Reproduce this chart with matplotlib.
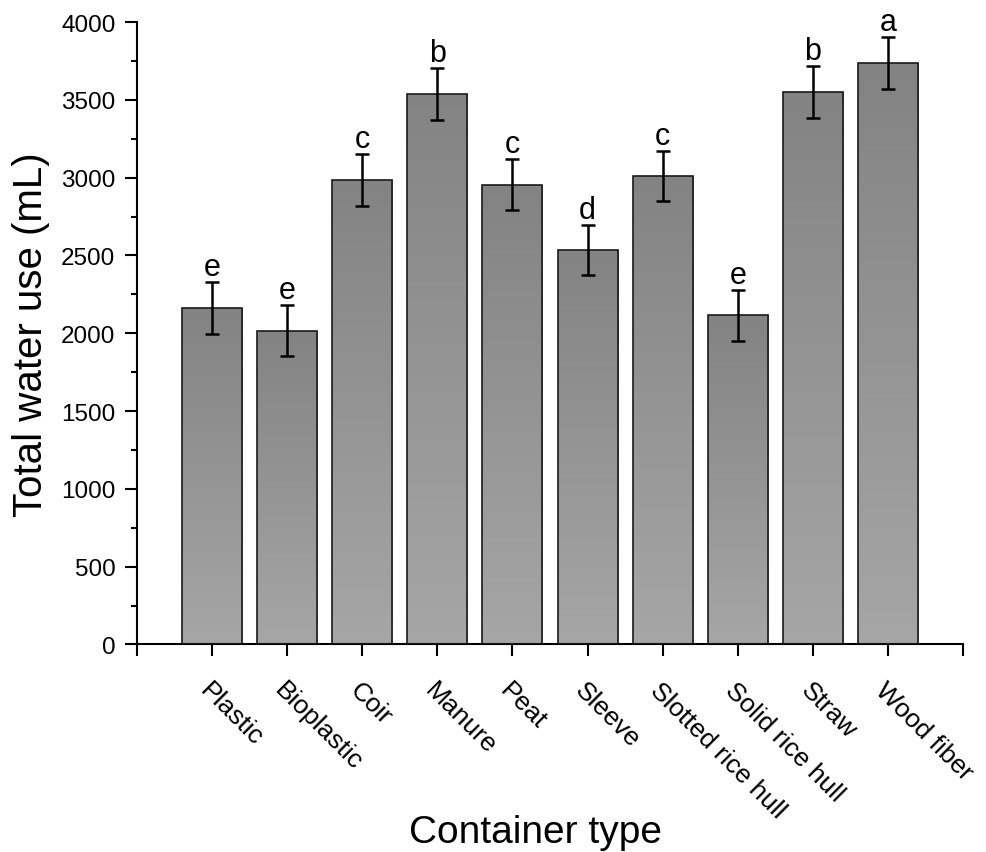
import matplotlib.pyplot as plt
import numpy as np
from matplotlib.colors import LinearSegmentedColormap

plt.rcParams['font.family'] = ['Liberation Sans', 'DejaVu Sans']

containers = ['Plastic', 'Bioplastic', 'Coir', 'Manure', 'Peat', 'Sleeve',
              'Slotted rice hull', 'Solid rice hull', 'Straw', 'Wood fiber']
water_use = [2160, 2017, 2985, 3536, 2955, 2535, 3011, 2116, 3551, 3735]
errors = [167, 164, 167, 167, 165, 162, 162, 164, 165, 167]
letters = ['e', 'e', 'c', 'b', 'c', 'd', 'c', 'e', 'b', 'a']

fig = plt.figure(figsize=(9.87, 8.53), dpi=100)
ax = fig.add_axes([0.1388, 0.2433, 0.8369, 0.7297])

x = np.arange(1, len(containers) + 1)
bars = ax.bar(x, water_use, width=0.8, color='none', edgecolor='#1a1a1a',
              linewidth=1.2, zorder=3)

# vertical grey gradient inside each bar
grad = np.linspace(0, 1, 256).reshape(-1, 1)
cmap = LinearSegmentedColormap.from_list('g', ['#a6a6a6', '#838383'])
for b in bars:
    x0, y0 = b.get_x(), b.get_y()
    w, h = b.get_width(), b.get_height()
    im = ax.imshow(grad, extent=[x0, x0 + w, y0, y0 + h], origin='lower',
                   cmap=cmap, aspect='auto', zorder=2)
    im.set_clip_path(b)

ax.errorbar(x, water_use, yerr=errors, fmt='none', ecolor='black',
            elinewidth=1.8, capsize=4.8, capthick=1.8, zorder=4)

for xi, v, e, lt in zip(x, water_use, errors, letters):
    ax.annotate(lt, (xi, v + e), xytext=(0, 0), textcoords='offset points',
                ha='center', va='bottom', fontsize=22)

ax.set_xlim(0, 11)
ax.set_ylim(0, 4000)
ax.set_xticks(np.arange(0, 12))
ax.set_xticklabels([''] + containers + [''], rotation=-45, ha='left',
                   va='top', rotation_mode='anchor', fontsize=19)
ax.set_yticks(np.arange(0, 4001, 500))
ax.set_yticks(np.arange(250, 4000, 500), minor=True)
ax.tick_params(axis='y', labelsize=17.5, pad=7)
ax.tick_params(which='major', length=8.5, width=1.5, direction='out')
ax.tick_params(which='minor', length=4.3, width=1.5, direction='out')
ax.tick_params(axis='x', pad=15)

for s in ['top', 'right']:
    ax.spines[s].set_visible(False)
for s in ['left', 'bottom']:
    ax.spines[s].set_linewidth(1.5)

ax.set_xlabel('Container type', fontsize=28)
ax.xaxis.set_label_coords(0.483, -0.272)
ax.set_ylabel('Total water use (mL)', fontsize=29, labelpad=8)

fig.savefig('out.png', dpi=100)
